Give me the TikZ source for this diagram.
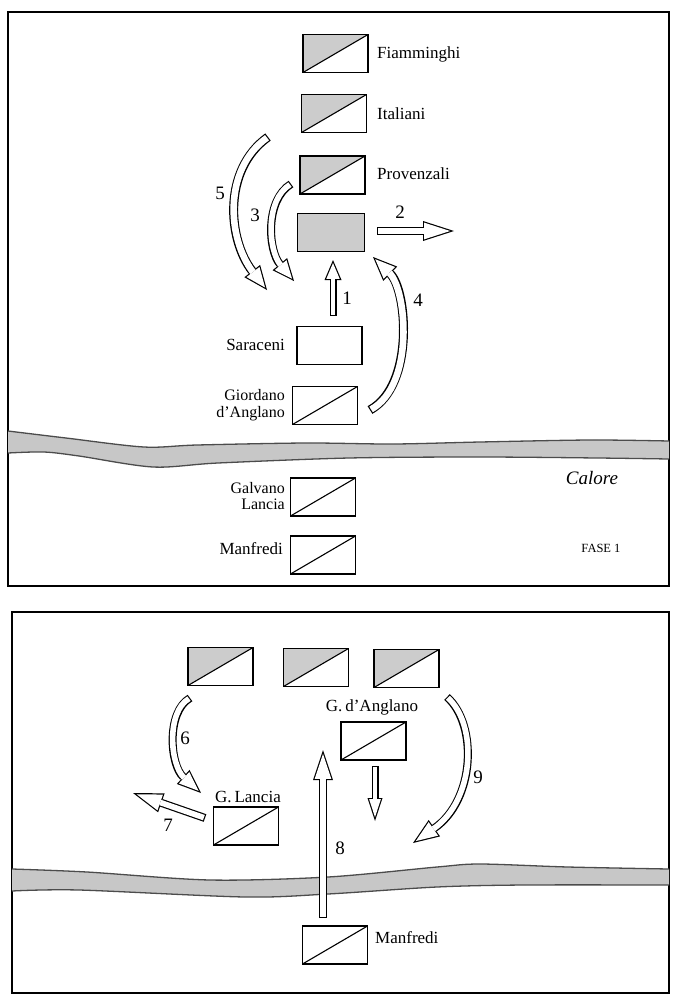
\documentclass[tikz,border=0pt]{standalone}
\usepackage{fontspec}
\setmainfont{Liberation Serif}
\usetikzlibrary{arrows.meta}
\definecolor{boxgray}{gray}{0.8}
\definecolor{rivergray}{gray}{0.78}
\definecolor{riveredge}{gray}{0.3}
\def\olw{1.2}
% hollow arrow: #1 shaft width, #2 head width, #3 head length, #4 path
\newcommand\harrow[4]{%
  \pgfmathsetmacro\hs{#2/(2*#3)}%
  \pgfmathsetmacro\hk{sqrt(1+\hs*\hs)}%
  \pgfmathsetmacro\ha{\olw*\hk/\hs}%
  \pgfmathsetmacro\hil{#3-\olw-\ha}%
  \pgfmathsetmacro\hiw{2*(\hs*(#3-\olw)-\olw*\hk)}%
  \pgfmathsetmacro\hsw{#1-2*\olw}%
  \draw[black, line width=#1pt, -{Triangle[width=#2pt,length=#3pt,line width=0pt]}] #4;
  \draw[white, line width=\hsw pt, shorten <=\olw pt, shorten >=\ha pt,
        -{Triangle[width=\hiw pt,length=\hil pt,line width=0pt]}] #4;
}
\tikzset{
  unitbox/.style={draw, line width=1.1pt, minimum width=65pt, minimum height=38pt, inner sep=0pt, fill=white},
  diagbox/.style={unitbox, path picture={
      \draw[line width=1.1pt] (path picture bounding box.south west) -- (path picture bounding box.north east);}},
  halfbox/.style={unitbox, path picture={
      \fill[boxgray] (path picture bounding box.south west) -- (path picture bounding box.north west)
        -- (path picture bounding box.north east) -- cycle;
      \draw[line width=1.1pt] (path picture bounding box.south west) -- (path picture bounding box.north east);}},
  greybox/.style={unitbox, fill=boxgray},
  lbl/.style={font=\fontsize{17}{15}\selectfont, inner sep=0pt},
  lbltwo/.style={font=\fontsize{16}{16.5}\selectfont, inner sep=0pt, align=right},
  num/.style={font=\fontsize{19}{19}\selectfont, inner sep=0pt},
  frame/.style={line width=1.5pt},
  river/.style={fill=rivergray},
  riverline/.style={draw=riveredge, line width=1.3pt},
}
\begin{document}
\begin{tikzpicture}[x=1pt,y=-1pt]
\useasboundingbox (0,0) rectangle (680,1002);
% ---------------- panel 1 ----------------
\draw[frame] (8,12) rectangle (669,586);
% river
\fill[river] plot[smooth] coordinates {(8,431) (66,438) (144,447) (197,445) (306,443) (393,444) (480,442) (590,440) (669,441)}
  -- plot[smooth] coordinates {(669,459) (598,458) (480,457) (349,458) (218,463) (153,467) (79,456) (44,452) (8,453)} -- cycle;
\draw[riverline] plot[smooth] coordinates {(8,431) (66,438) (144,447) (197,445) (306,443) (393,444) (480,442) (590,440) (669,441)};
\draw[riverline] plot[smooth] coordinates {(669,459) (598,458) (480,457) (349,458) (218,463) (153,467) (79,456) (44,452) (8,453)};

\node[halfbox] (fiam) at (335.5,53.5) {};
\node[halfbox] (ital) at (334,113.5) {};
\node[halfbox] (prov) at (332.5,175) {};
\node[greybox, minimum width=67pt] (grey) at (331,232.5) {};
\node[unitbox] (sarac) at (329.5,345.5) {};
\node[diagbox] (giord) at (325,405.5) {};
\node[diagbox] (galv) at (323,497) {};
\node[diagbox] (manfa) at (323,555) {};

\node[lbl, anchor=west] (lfiam) at (377,54) {Fiamminghi};
\node[lbl, anchor=west] (lital) at (377,114) {Italiani};
\node[lbl, anchor=west] (lprov) at (377,174) {Provenzali};
\node[lbl, anchor=east] (lsarac) at (285,345) {Saraceni};
\node[lbltwo, anchor=east] (lgiord) at (285,405) {Giordano\\d’Anglano};
\node[lbltwo, anchor=east] (lgalv) at (285,496) {Galvano\\Lancia};
\node[lbl, anchor=east] (lmanfa) at (283,549) {Manfredi};
\node[font=\fontsize{19}{19}\selectfont\itshape, inner sep=0pt] (calore) at (592,478) {Calore};
\node[font=\fontsize{12.5}{13}\selectfont, inner sep=0pt] (fase) at (601,548) {FASE 1};

% arrows panel 1
\coordinate (a1s) at (333,316); \coordinate (a1e) at (333,260);
\coordinate (a2s) at (377,231); \coordinate (a2e) at (454,231);
\coordinate (a3s) at (291,184); \coordinate (a3c) at (265,200); \coordinate (a3d) at (268,250); \coordinate (a3e) at (294,281);
\coordinate (a4s) at (370,410); \coordinate (a4c) at (415,385); \coordinate (a4d) at (407,290); \coordinate (a4e) at (373,257);
\coordinate (a5s) at (268,137); \coordinate (a5c) at (222,170); \coordinate (a5d) at (228,240); \coordinate (a5e) at (267,290);
\harrow{7}{17}{20}{(a1s) -- (a1e)}
\harrow{8}{20}{31}{(a2s) -- (a2e)}
\harrow{8}{19}{22}{(a3s) .. controls (a3c) and (a3d) .. (a3e)}
\harrow{9}{20}{24}{(a4s) .. controls (a4c) and (a4d) .. (a4e)}
\harrow{9}{20}{24}{(a5s) .. controls (a5c) and (a5d) .. (a5e)}
\node[num] (n1) at (347,298) {1};
\node[num] (n2) at (400,212) {2};
\node[num] (n3) at (255,215) {3};
\node[num] (n4) at (418,300) {4};
\node[num] (n5) at (220,193) {5};

% ---------------- panel 2 ----------------
\draw[frame] (12,612) rectangle (669,993);
\fill[river] plot[smooth] coordinates {(12,869) (87,872) (210,880) (328,877) (437,867) (480,864) (568,867) (669,869)}
  -- plot[smooth] coordinates {(669,885) (524,885) (437,887) (328,894) (245,897) (79,890) (12,891)} -- cycle;
\draw[riverline] plot[smooth] coordinates {(12,869) (87,872) (210,880) (328,877) (437,867) (480,864) (568,867) (669,869)};
\draw[riverline] plot[smooth] coordinates {(669,885) (524,885) (437,887) (328,894) (245,897) (79,890) (12,891)};

\node[halfbox] (ba) at (220.5,666.5) {};
\node[halfbox] (bb) at (316,667.5) {};
\node[halfbox] (bc) at (406.5,668.5) {};
\node[diagbox] (gdang) at (373.5,741) {};
\node[diagbox] (glan) at (246,826) {};
\node[diagbox] (manfb) at (335,945) {};

\node[lbl] (lgdang) at (372,707) {G.\,d’Anglano};
\node[lbl] (lglan) at (248,797) {G.\,Lancia};
\node[lbl, anchor=west] (lmanfb) at (375,938) {Manfredi};

\coordinate (a6s) at (190,698); \coordinate (a6c) at (166,712); \coordinate (a6d) at (170,765); \coordinate (a6e) at (201,793);
\coordinate (a7s) at (205,818); \coordinate (a7e) at (133,793);
\coordinate (a8s) at (323,918); \coordinate (a8e) at (323,750);
\coordinate (ads) at (375,766); \coordinate (ade) at (375,821);
\coordinate (a9s) at (447,697); \coordinate (a9c) at (478,725); \coordinate (a9d) at (475,800); \coordinate (a9e) at (413,843);
\harrow{8}{19}{24}{(a6s) .. controls (a6c) and (a6d) .. (a6e)}
\harrow{8}{20}{30}{(a7s) -- (a7e)}
\harrow{8}{20}{30}{(a8s) -- (a8e)}
\harrow{7}{15}{23}{(ads) -- (ade)}
\harrow{8}{20}{26}{(a9s) .. controls (a9c) and (a9d) .. (a9e)}
\node[num] (n6) at (185,738) {6};
\node[num] (n7) at (168,825) {7};
\node[num] (n8) at (340,848) {8};
\node[num] (n9) at (478,777) {9};
\end{tikzpicture}
\end{document}
